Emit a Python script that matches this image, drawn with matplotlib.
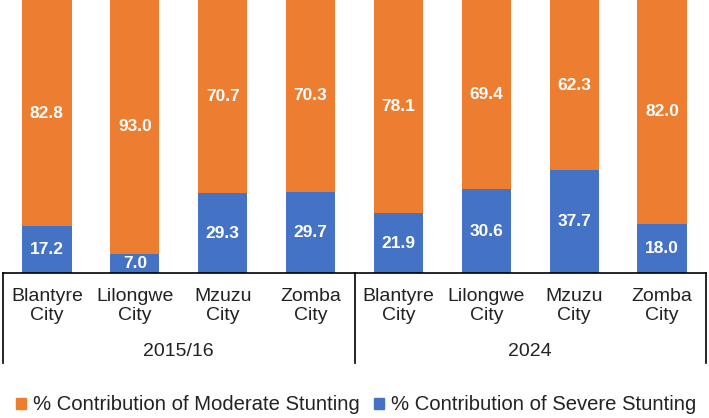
import numpy as np
import matplotlib.pyplot as plt
from matplotlib.patches import Patch

plt.rcParams['font.family'] = ['Liberation Sans', 'DejaVu Sans']

cities = ["Blantyre\nCity", "Lilongwe\nCity", "Mzuzu\nCity", "Zomba\nCity"] * 2
periods = ["2015/16", "2024"]
severe = [17.2, 7.0, 29.3, 29.7, 21.9, 30.6, 37.7, 18.0]
moderate = [82.8, 93.0, 70.7, 70.3, 78.1, 69.4, 62.3, 82.0]

orange = "#ED7D31"
blue = "#4472C4"

fig = plt.figure(figsize=(7.09, 4.18), dpi=100)
ax = fig.add_axes([3 / 709, 1 - 273 / 418, 703 / 709, 273 / 418])

x = np.arange(len(cities))
ax.bar(x, severe, width=0.56, color=blue)
ax.bar(x, moderate, width=0.56, bottom=severe, color=orange)

for i in range(len(x)):
    ax.text(x[i], severe[i] / 2, f"{severe[i]:.1f}", ha="center", va="center",
            color="white", fontsize=12.5, fontweight="bold")
    ax.text(x[i], severe[i] + moderate[i] / 2, f"{moderate[i]:.1f}", ha="center",
            va="center", color="white", fontsize=12.5, fontweight="bold")

ax.set_xlim(-0.5, len(x) - 0.5)
ax.set_ylim(0, 100)
for s in ["top", "left", "right"]:
    ax.spines[s].set_visible(False)
ax.spines["bottom"].set_color("black")
ax.spines["bottom"].set_linewidth(1.2)
ax.set_yticks([])
ax.set_xticks([])

# two-level category axis
h = 273
for i, c in enumerate(cities):
    ax.text(x[i], -33 / h, c, transform=ax.get_xaxis_transform(), ha="center",
            va="center", fontsize=14, linespacing=1.1, color="#222222")
for j, p in enumerate(periods):
    ax.text(1.5 + 4 * j, -79 / h, p, transform=ax.get_xaxis_transform(),
            ha="center", va="center", fontsize=14, color="#222222")
for xv in [-0.5, 3.5, 7.5]:
    ax.plot([xv, xv], [0, -90 / h], transform=ax.get_xaxis_transform(),
            color="black", lw=1.2, clip_on=False)

handles = [Patch(color=orange, label="% Contribution of Moderate Stunting"),
           Patch(color=blue, label="% Contribution of Severe Stunting")]
fig.legend(handles=handles, loc="center", bbox_to_anchor=(0.502, 1 - 405 / 418),
           ncol=2, frameon=False, fontsize=14.6, handlelength=0.5,
           handleheight=0.5, handletextpad=0.35, columnspacing=0.7,
           labelcolor="#222222")

fig.savefig("out.png", dpi=100)
